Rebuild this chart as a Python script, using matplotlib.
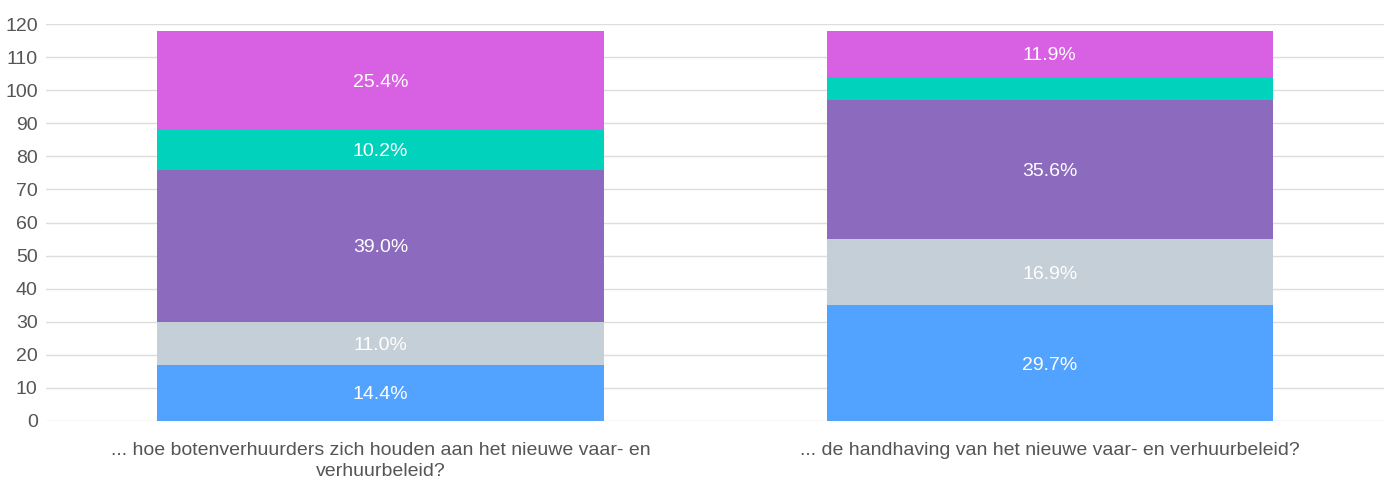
import numpy as np
import matplotlib
matplotlib.use('Agg')
import matplotlib.pyplot as plt

plt.rcParams['font.family'] = ['Liberation Sans', 'DejaVu Sans']

# categorieen en aantallen per antwoord (totaal 118)
categories = ['... hoe botenverhuurders zich houden aan het nieuwe vaar- en\nverhuurbeleid?',
              '... de handhaving van het nieuwe vaar- en verhuurbeleid?']
blue = [17, 35]
grey = [13, 20]
purple = [46, 42]
teal = [12, 7]
pink = [30, 14]
series = [blue, grey, purple, teal, pink]
colors = ['#52a2ff', '#c5cfd7', '#8c6bbe', '#00d2bb', '#d860e2']
yticks = list(range(0, 121, 10))

fig = plt.figure(figsize=(13.94, 4.82), dpi=100)
ax = fig.add_axes([0.033, 0.1266, 0.96, 0.8234])

x = np.arange(len(categories))
totals = np.sum(series, axis=0)
bottom = np.zeros(len(categories))
for vals, c in zip(series, colors):
    vals = np.array(vals, dtype=float)
    ax.bar(x, vals, 0.667, bottom=bottom, color=c, zorder=2)
    for i in range(len(x)):
        pct = vals[i] / totals[i] * 100
        if pct >= 8:
            ax.text(x[i], bottom[i] + vals[i] / 2, f'{pct:.1f}%', ha='center', va='center_baseline',
                    color='white', fontsize=14, zorder=3)
    bottom += vals

ax.set_xlim(-0.5, 1.5)
ax.set_ylim(0, 120)
ax.set_yticks(yticks)
ax.set_xticks(x)
ax.set_xticklabels(categories, color='#555555', fontsize=14, linespacing=1.3)
ax.tick_params(axis='y', colors='#555555', labelsize=14, length=0, pad=6)
ax.tick_params(axis='x', length=0, pad=15)
ax.grid(axis='y', color='#dddddd', linewidth=1, zorder=0)
for s in ax.spines.values():
    s.set_visible(False)

fig.savefig('out.png', dpi=100)
